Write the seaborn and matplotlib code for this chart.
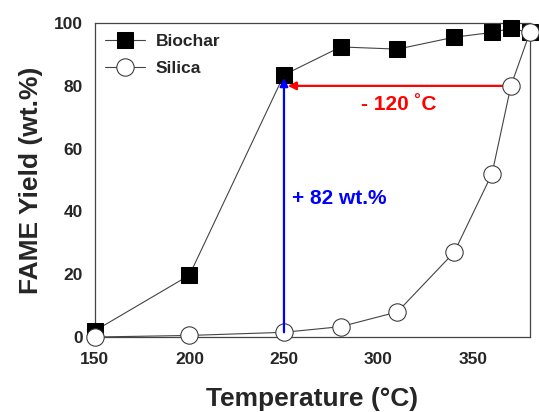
import matplotlib
matplotlib.use("Agg")
import matplotlib.pyplot as plt
import seaborn as sns
import pandas as pd

# data
temperature = [150, 200, 250, 280, 310, 340, 360, 370, 380]
biochar = [2.0, 19.7, 83.5, 92.4, 91.7, 95.5, 97.0, 98.3, 97.0]
silica = [0.0, 0.5, 1.5, 3.3, 8.0, 27.0, 52.0, 80.0, 97.0]

sns.set_style("white")
plt.rcParams['font.family'] = ['Liberation Sans', 'DejaVu Sans']
plt.rcParams['font.weight'] = 'bold'

df = pd.DataFrame({'Temperature': temperature, 'Biochar': biochar, 'Silica': silica})

fig = plt.figure(figsize=(5.39, 4.12), dpi=100)
ax = fig.add_axes([0.176, 0.182, 0.807, 0.762])

sns.lineplot(data=df, x='Temperature', y='Biochar', ax=ax, color='#444444', lw=0.8,
             marker='s', markersize=11.5, markerfacecolor='black', markeredgecolor='black',
             label='Biochar', zorder=3)
sns.lineplot(data=df, x='Temperature', y='Silica', ax=ax, color='#444444', lw=0.8,
             marker='o', markersize=12.5, markerfacecolor='white', markeredgecolor='#333333',
             label='Silica', zorder=4)

# arrows and notes
ax.annotate('', xy=(250, 82.5), xytext=(250, 1.5),
            arrowprops=dict(arrowstyle='-|>', color='blue', lw=1.6, mutation_scale=12,
                            shrinkA=0, shrinkB=0), zorder=5)
ax.annotate('', xy=(252, 80), xytext=(369, 80),
            arrowprops=dict(arrowstyle='-|>', color='red', lw=1.6, mutation_scale=12,
                            shrinkA=0, shrinkB=0), zorder=2)
ax.text(254, 44, '+ 82 wt.%', color='blue', fontsize=15, fontweight='bold', va='center')
ax.text(310.5, 74, '- 120 \u02daC', color='red', fontsize=15, fontweight='bold',
        ha='center', va='center')

ax.set_xlim(150, 380)
ax.set_ylim(0, 100)
ax.set_xticks([150, 200, 250, 300, 350])
ax.set_yticks([0, 20, 40, 60, 80, 100])
ax.tick_params(axis='x', direction='in', length=5, width=0.8, labelsize=12.5, pad=11)
ax.tick_params(axis='y', direction='out', length=5, width=0.8, labelsize=12.5)
for lab in ax.get_xticklabels() + ax.get_yticklabels():
    lab.set_fontweight('bold')

for sp in ax.spines.values():
    sp.set_visible(True)
    sp.set_color('#444444')
    sp.set_linewidth(0.9)

ax.set_xlabel('Temperature (\u00b0C)', fontsize=19, fontweight='bold', labelpad=14)
ax.set_ylabel('FAME Yield (wt.%)', fontsize=19, fontweight='bold', labelpad=8)

leg = ax.legend(loc='upper left', frameon=False, fontsize=12.5, handlelength=2.3,
                handletextpad=0.6, borderaxespad=0.2, labelspacing=0.7)
for t in leg.get_texts():
    t.set_fontweight('bold')

for c in ax.collections:
    c.set_clip_on(False)
for ln in ax.lines:
    ln.set_clip_on(False)

fig.savefig('out.png', dpi=100)
